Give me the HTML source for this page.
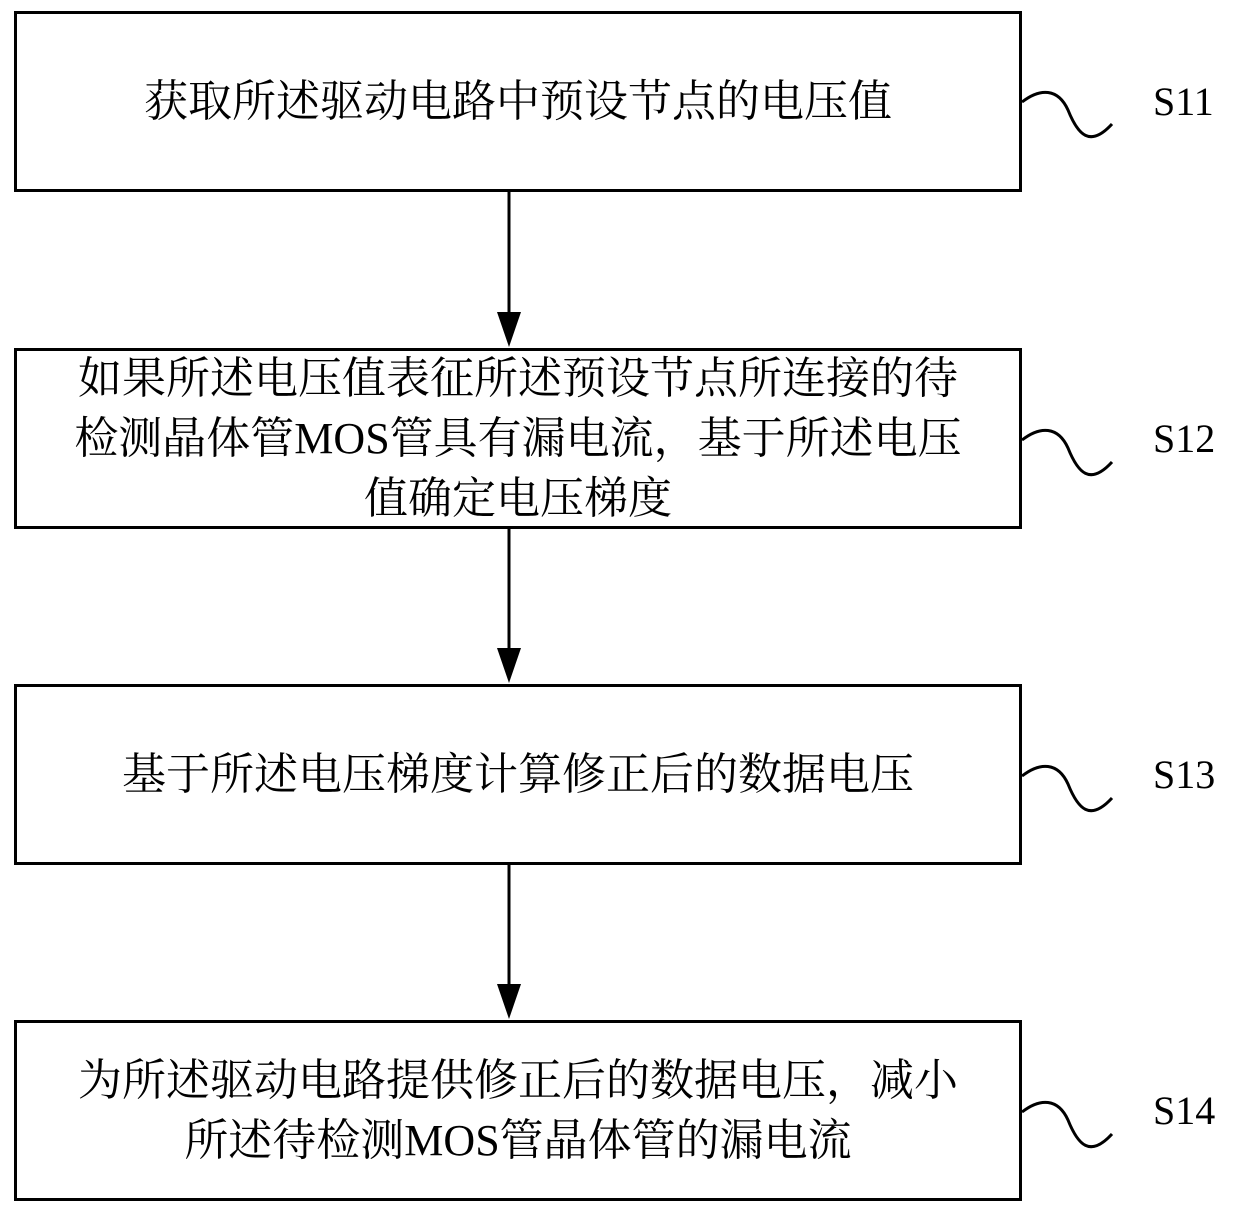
<!DOCTYPE html>
<html><head><meta charset="utf-8"><style>
html,body{margin:0;padding:0;background:#fff;}
body{width:1240px;height:1215px;position:relative;overflow:hidden;font-family:"Liberation Serif","Noto Serif CJK SC",serif;color:#000;}
.box{position:absolute;left:14px;width:1002px;border:3px solid #000;display:flex;align-items:center;justify-content:center;text-align:center;font-size:44px;line-height:60px;}
.lab{position:absolute;left:1153px;font-size:40px;}
</style></head><body>
<svg width="1240" height="1215" style="position:absolute;left:0;top:0">
<g stroke="#000" stroke-width="3" fill="none">
<line x1="509" y1="192" x2="509" y2="316"/>
<line x1="509" y1="528" x2="509" y2="652"/>
<line x1="509" y1="864" x2="509" y2="988"/>
<path d="M1022,102 C1040,88 1058,88 1068,110 C1078,135 1090,148 1112,124"/>
<path d="M1022,440 C1040,426 1058,426 1068,448 C1078,473 1090,486 1112,462"/>
<path d="M1022,776 C1040,762 1058,762 1068,784 C1078,809 1090,822 1112,798"/>
<path d="M1022,1112 C1040,1098 1058,1098 1068,1120 C1078,1145 1090,1158 1112,1134"/>
</g>
<g fill="#000">
<polygon points="497,312 521,312 509,347"/>
<polygon points="497,648 521,648 509,683"/>
<polygon points="497,984 521,984 509,1019"/>
</g>
</svg>
<div class="box" style="top:11px;height:175px;">获取所述驱动电路中预设节点的电压值</div>
<div class="box" style="top:348px;height:175px;">如果所述电压值表征所述预设节点所连接的待<br>检测晶体管MOS管具有漏电流，基于所述电压<br>值确定电压梯度</div>
<div class="box" style="top:684px;height:175px;">基于所述电压梯度计算修正后的数据电压</div>
<div class="box" style="top:1020px;height:175px;">为所述驱动电路提供修正后的数据电压，减小<br>所述待检测MOS管晶体管的漏电流</div>
<div class="lab" style="top:78px;">S11</div>
<div class="lab" style="top:415px;">S12</div>
<div class="lab" style="top:751px;">S13</div>
<div class="lab" style="top:1087px;">S14</div>
</body></html>
